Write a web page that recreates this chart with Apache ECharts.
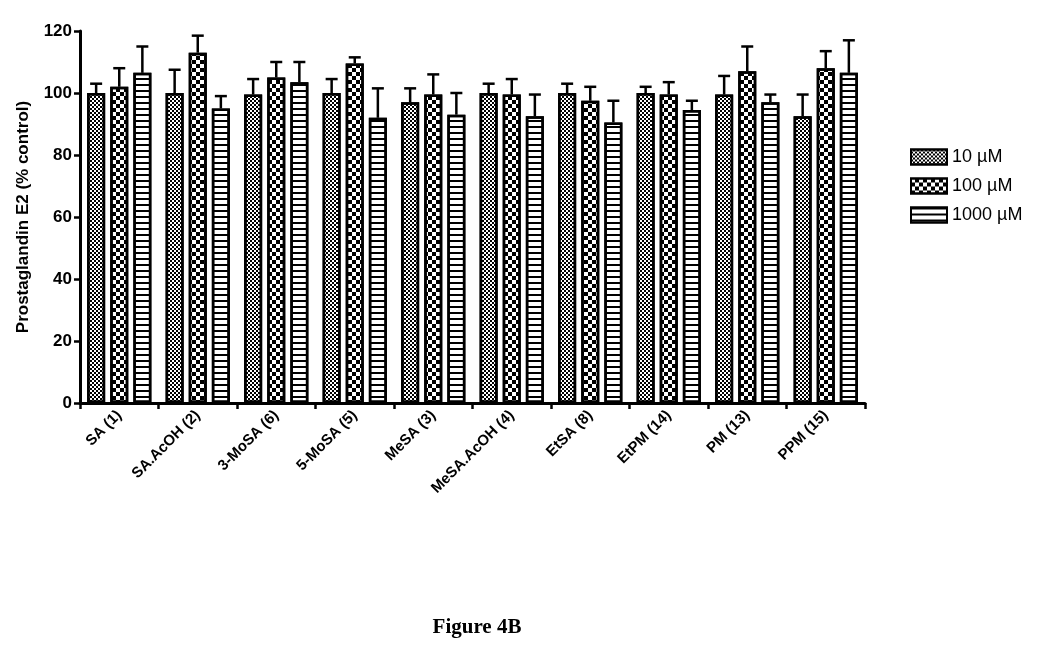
<!DOCTYPE html>
<html lang="en">
<head>
<meta charset="UTF-8">
<title>Figure 4B</title>
<script src="https://cdn.jsdelivr.net/npm/echarts@6/dist/echarts.min.js"></script>
</head>
<body style="margin:0;background:#fff">
<div id="main" style="width:1050px;height:657px;"></div>
<script>
var categories = ['SA (1)', 'SA.AcOH (2)', '3-MoSA (6)', '5-MoSA (5)', 'MeSA (3)', 'MeSA.AcOH (4)', 'EtSA (8)', 'EtPM (14)', 'PM (13)', 'PPM (15)'];
var seriesNames = ['10 µM', '100 µM', '1000 µM'];
var val10 = [100, 100, 99.5, 100, 97, 100, 100, 100, 99.5, 92.5];
var val100 = [102, 113, 105, 109.5, 99.5, 99.5, 97.5, 99.5, 107, 108];
var val1000 = [106.5, 95, 103.5, 92, 93, 92.5, 90.5, 94.5, 97, 106.5];
var top10 = [103, 107.5, 104.5, 104.5, 101.5, 103, 103, 102, 105.5, 99.5];
var top100 = [108, 118.5, 110, 111.5, 106, 104.5, 102, 103.5, 115, 113.5];
var top1000 = [115, 99, 110, 101.5, 100, 99.5, 97.5, 97.5, 99.5, 117];

var values = [val10, val100, val1000];
var tops = [top10, top100, top1000];

var decals = [
  { symbol: 'rect', color: '#000', symbolSize: 1, dashArrayX: [[2, 2], [0, 2, 2, 0]], dashArrayY: [2, 0], rotation: 0 },
  { symbol: 'rect', color: '#000', symbolSize: 1, dashArrayX: [[4, 4], [0, 4, 4, 0]], dashArrayY: [4, 0], rotation: 0 },
  { symbol: 'rect', color: '#000', symbolSize: 1, dashArrayX: [1, 0], dashArrayY: [2, 4], rotation: 0 }
];

var chart = echarts.init(document.getElementById('main'));
var series = [];
seriesNames.forEach(function (name, i) {
  series.push({
    name: name,
    type: 'bar',
    data: values[i],
    barWidth: '23%',
    barGap: '28%',
    itemStyle: { color: '#fff', borderColor: '#000', borderWidth: 2.5, decal: decals[i] },
    z: 2
  });
});
seriesNames.forEach(function (name, i) {
  series.push({
    type: 'custom',
    name: name + ' err',
    z: 1,
    data: values[i].map(function (v, j) { return [j, v, tops[i][j]]; }),
    renderItem: function (params, api) {
      var base = api.coord([api.value(0), api.value(1)]);
      var top = api.coord([api.value(0), api.value(2)]);
      var band = api.size([1, 0])[0];
      var bw = band * 0.23;
      var x = base[0] + (i - 1) * bw * 1.28;
      var cap = 6;
      return {
        type: 'group',
        children: [
          { type: 'line', shape: { x1: x, y1: base[1], x2: x, y2: top[1] }, style: { stroke: '#000', lineWidth: 2.5 } },
          { type: 'line', shape: { x1: x - cap, y1: top[1], x2: x + cap, y2: top[1] }, style: { stroke: '#000', lineWidth: 2.5 } }
        ]
      };
    }
  });
});

chart.setOption({
  animation: false,
  title: {
    text: 'Figure 4B', left: 472, top: 612, textAlign: 'center',
    textStyle: { fontFamily: 'Liberation Serif', fontSize: 21, fontWeight: 'bold', color: '#000' }
  },
  legend: {
    data: seriesNames, orient: 'vertical', left: 905, top: 143, itemGap: 11,
    itemWidth: 36, itemHeight: 15, icon: 'rect',
    textStyle: { fontFamily: 'Liberation Sans', fontSize: 18, color: '#000' }
  },
  grid: { left: 80, right: 185, top: 31, bottom: 254, containLabel: false },
  xAxis: {
    type: 'category', data: categories,
    axisLine: { lineStyle: { color: '#000', width: 3 } },
    axisTick: { show: true, alignWithLabel: false, length: 6, lineStyle: { width: 2.5, color: '#000' } },
    axisLabel: { rotate: 45, color: '#000', fontWeight: 'bold', fontSize: 15, fontFamily: 'Liberation Sans', margin: 10 }
  },
  yAxis: {
    type: 'value', min: 0, max: 120, interval: 20,
    name: 'Prostaglandin E2 (% control)', nameLocation: 'middle', nameGap: 48,
    nameTextStyle: { color: '#000', fontWeight: 'bold', fontSize: 17, fontFamily: 'Liberation Sans' },
    splitLine: { show: false },
    axisLine: { show: true, lineStyle: { color: '#000', width: 3 } },
    axisTick: { show: true, length: 6, lineStyle: { width: 2.5, color: '#000' } },
    axisLabel: { color: '#000', fontWeight: 'bold', fontSize: 17, fontFamily: 'Liberation Sans' }
  },
  series: series
});
</script>
</body>
</html>
